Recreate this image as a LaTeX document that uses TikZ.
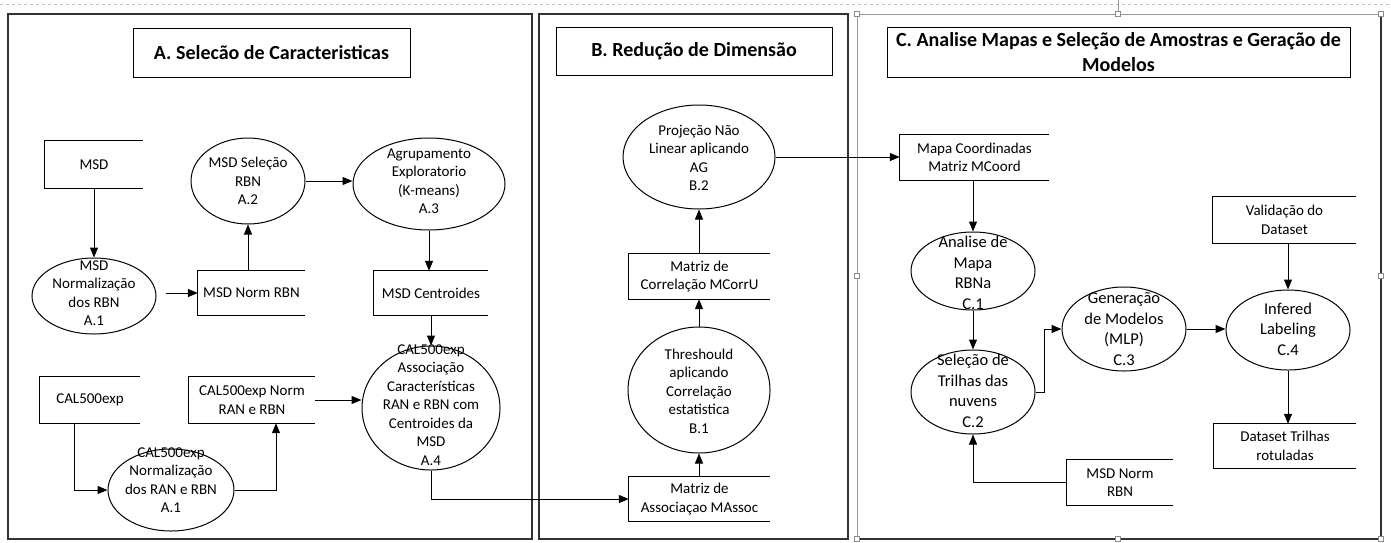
\documentclass[tikz,border=0pt]{standalone}
\usepackage{fontspec}
\setmainfont{Carlito}
\usetikzlibrary{arrows.meta,shapes.geometric,calc}
\newcommand\storeline[1]{\draw[line] (#1.north east) -- (#1.north west) -- (#1.south west) -- (#1.south east);}
\begin{document}
\begin{tikzpicture}[x=1pt,y=-1pt,
  every node/.style={font=\fontsize{15}{18.5}\selectfont, text=black},
  line/.style={draw=black, line width=1pt},
  arr/.style={line, -{Triangle[length=10pt,width=8pt]}},
  panel/.style={draw=black!80, line width=1.4pt},
  gframe/.style={draw=black!40, line width=0.8pt},
  handle/.style={draw=black!45, fill=white, line width=0.6pt, rectangle, minimum size=5pt, inner sep=0},
  title/.style={draw=black, line width=1pt, rectangle, align=center, inner sep=0, font=\fontsize{20}{25}\selectfont\bfseries},
  proc/.style={ellipse, draw=black, line width=1pt, inner sep=0},
  store/.style={rectangle, inner sep=0, align=center},
  txt/.style={align=center, inner sep=0},
  bigtxt/.style={txt, font=\fontsize{16.5}{20.5}\selectfont},
]
\useasboundingbox[fill=white] (0,0) rectangle (1391,542);
% page edge and frames
\draw[black!25, dashed, line width=0.6pt] (0,4) -- (1391,4);
\draw[panel] (8,14) rectangle (532,539);
\draw[panel] (539,14) rectangle (848,539);
\draw[gframe] (857,14) rectangle (1381,539);
\draw[panel] (1381,14) -- (1381,539) -- (857,539);
\draw[gframe] (1118,0) -- (1118,14);
\foreach \p in {(857,14),(1118,14),(1381,14),(857,276),(1381,276),(857,539),(1118,539),(1381,539)}
  \node[handle] at \p {};

% titles
\node[title, minimum width=277pt, minimum height=49pt] (ta) at (271.5,52.5) {A. Selecão de Caracteristicas};
\node[title, minimum width=276pt, minimum height=48pt] (tb) at (694,51.5) {B. Redução de Dimensão};
\node[title, minimum width=463pt, minimum height=50pt] (tc) at (1118.5,52.5) {C. Analise Mapas e Seleção de Amostras e Geração de\\Modelos};

% ---- A ----
\node[store, minimum width=98pt, minimum height=47pt] (msd) at (94,164.5) {MSD};
\storeline{msd}
\node[proc, minimum width=124pt, minimum height=76pt] (a1) at (94,296) {};
\node[txt] (a1t) at (94,293) {MSD\\Normalização\\dos RBN\\A.1};
\node[store, minimum width=107pt, minimum height=44pt] (msdnorm) at (251.5,293) {MSD Norm RBN};
\storeline{msdnorm}
\node[proc, minimum width=114pt, minimum height=86pt] (a2) at (248,181) {};
\node[txt] (a2t) at (248,181) {MSD Seleção\\RBN\\A.2};
\node[proc, minimum width=152pt, minimum height=92pt] (a3) at (429,184) {};
\node[txt] (a3t) at (429,181) {Agrupamento\\Exploratorio\\(K-means)\\A.3};
\node[store, minimum width=114pt, minimum height=44pt] (cent) at (431,293) {MSD Centroides};
\storeline{cent}
\node[proc, minimum width=138pt, minimum height=124pt] (a4) at (431,408) {};
\node[txt] (a4t) at (431,405) {CAL500exp\\Associação\\Características\\RAN e RBN com\\Centroides da\\MSD\\A.4};
\node[store, minimum width=100pt, minimum height=46pt] (cal) at (90,400) {CAL500exp};
\storeline{cal}
\node[store, minimum width=126pt, minimum height=46pt] (calnorm) at (252,400) {CAL500exp Norm\\RAN e RBN};
\storeline{calnorm}
\node[proc, minimum width=126pt, minimum height=82pt] (a1b) at (171,490) {};
\node[txt] (a1bt) at (171,480) {CAL500exp\\Normalização\\dos RAN e RBN\\A.1};

\coordinate (a1o) at ($(a1.east)+(9,0)$);
\coordinate (calo) at ($(cal.south)+(-16,0)$);
\coordinate (calnormo) at ($(calnorm.south)+(24,0)$);
\draw[arr] (msd.south) -- (a1.north);
\draw[arr] (a1o |- msdnorm.west) -- (msdnorm.west);
\draw[arr] (msdnorm.north -| a2.south) -- (a2.south);
\draw[arr] (a2.east) -- (a2.east -| a3.west);
\draw[arr] (a3.south) -- (a3.south |- cent.north);
\draw[arr] (a4.north |- cent.south) -- (a4.north);
\draw[arr] (calo) |- (a1b.west);
\draw[arr] (a1b.east) -| (calnormo);
\draw[arr] (calnorm.east) -- (calnorm.east -| a4.west);

% ---- B ----
\node[proc, minimum width=152pt, minimum height=104pt] (b2) at (699,157) {};
\node[txt] (b2t) at (699,158) {Projeção Não\\Linear aplicando\\AG\\B.2};
\node[store, minimum width=141pt, minimum height=45pt] (mcorr) at (699.5,276.5) {Matriz de\\Correlação MCorrU};
\storeline{mcorr}
\node[proc, minimum width=142pt, minimum height=126pt] (b1) at (699,390) {};
\node[txt] (b1t) at (699,391) {Threshould\\aplicando\\Correlação\\estatistica\\B.1};
\node[store, minimum width=141pt, minimum height=44pt] (massoc) at (699.5,499) {Matriz de\\Associaçao MAssoc};
\storeline{massoc}
\draw[arr] (a4.south) |- (massoc.west);
\draw[arr] (massoc.north -| b1.south) -- (b1.south);
\draw[arr] (b1.north) -- (b1.north |- mcorr.south);
\draw[arr] (mcorr.north -| b2.south) -- (b2.south);

% ---- C ----
\node[store, minimum width=149pt, minimum height=45pt] (mapa) at (974.5,157.5) {Mapa Coordinadas\\Matriz MCoord};
\storeline{mapa}
\node[proc, minimum width=124pt, minimum height=78pt] (c1) at (973,271) {};
\node[bigtxt] (c1t) at (973,273) {Analise de\\Mapa\\RBNa\\C.1};
\node[proc, minimum width=124pt, minimum height=84pt] (c2) at (973,392) {};
\node[bigtxt] (c2t) at (973,391) {Seleção de\\Trilhas das\\nuvens\\C.2};
\node[proc, minimum width=124pt, minimum height=84pt] (c3) at (1124,329) {};
\node[bigtxt] (c3t) at (1124,329) {Generação\\de Modelos\\(MLP)\\C.3};
\node[proc, minimum width=124pt, minimum height=80pt] (c4) at (1288,330) {};
\node[bigtxt] (c4t) at (1288,329) {Infered\\Labeling\\C.4};
\node[store, minimum width=143pt, minimum height=46pt] (val) at (1284.5,220) {Validação do\\Dataset};
\storeline{val}
\node[store, minimum width=142pt, minimum height=44pt] (dts) at (1285,446) {Dataset Trilhas\\rotuladas};
\storeline{dts}
\node[store, minimum width=106pt, minimum height=45pt] (msdn2) at (1120,482.5) {MSD Norm\\RBN};
\storeline{msdn2}

\draw[arr] (b2.east) -- (b2.east -| mapa.west);
\draw[arr] (c1.north |- mapa.south) -- (c1.north);
\draw[arr] (c1.south) -- (c2.north);
\draw[arr] (c2.east) -- ++(9,0) |- (c3.west);
\draw[arr] (c3.east) -- (c3.east -| c4.west);
\draw[arr] (val.south -| c4.north) -- (c4.north);
\draw[arr] (c4.south) -- (c4.south |- dts.north);
\draw[arr] (msdn2.west) -| (c2.south);
\end{tikzpicture}
\end{document}
